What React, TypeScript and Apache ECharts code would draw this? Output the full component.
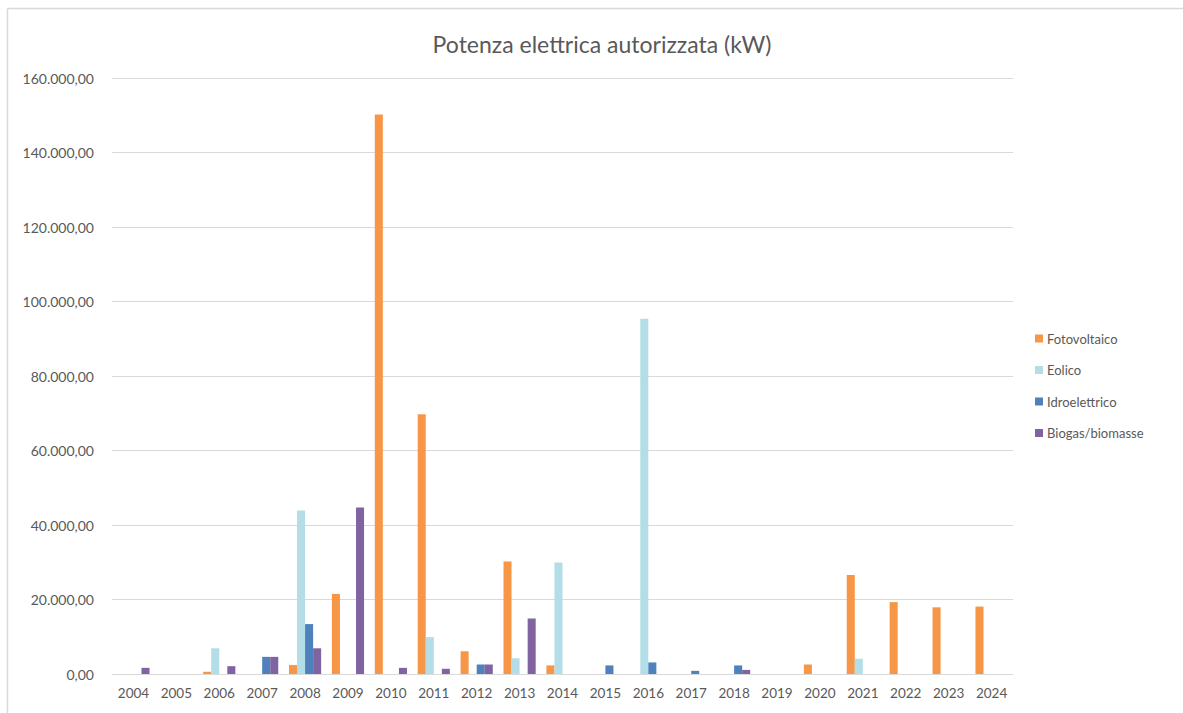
import React, { useEffect, useRef } from "react";
import * as echarts from "echarts";

const years = ["2004","2005","2006","2007","2008","2009","2010","2011","2012","2013","2014","2015","2016","2017","2018","2019","2020","2021","2022","2023","2024"];
const fotovoltaico = [0, 0, 600, 0, 2400, 21500, 150200, 69700, 6100, 30200, 2300, 0, 0, 0, 0, 0, 2550, 26600, 19300, 17900, 18100];
const eolico = [0, 0, 6900, 0, 43900, 0, 0, 9900, 0, 4200, 29900, 0, 95400, 0, 0, 0, 0, 4100, 0, 0, 0];
const idroelettrico = [0, 0, 0, 4600, 13400, 0, 0, 0, 2550, 0, 0, 2300, 3100, 850, 2300, 0, 0, 0, 0, 0, 0];
const biogas = [1650, 0, 2100, 4600, 6900, 44700, 1650, 1400, 2550, 14900, 0, 0, 0, 0, 1100, 0, 0, 0, 0, 0, 0];
const seriesNames = ["Fotovoltaico", "Eolico", "Idroelettrico", "Biogas/biomasse"];
const colors = ["#F79646", "#B3DDE7", "#4F81BD", "#8064A2"];

const FONT = "Lato";

function fmt(v: number): string {
  const s = Math.round(v).toString().replace(/\B(?=(\d{3})+(?!\d))/g, ".");
  return s + ",00";
}

export default function App() {
  const ref = useRef<HTMLDivElement>(null);
  useEffect(() => {
    if (!ref.current) return;
    const chart = echarts.init(ref.current, null, { renderer: "svg" });
    const data = [fotovoltaico, eolico, idroelettrico, biogas];
    chart.setOption({
      animation: false,
      backgroundColor: "#ffffff",
      textStyle: { fontFamily: FONT },
      title: {
        text: "Potenza elettrica autorizzata (kW)",
        left: 597,
        textAlign: "center",
        top: 27,
        textStyle: { fontFamily: FONT, fontSize: 23, fontWeight: "normal", color: "#595959" },
      },
      legend: {
        orient: "vertical",
        left: 1030,
        top: 327,
        itemWidth: 8,
        itemHeight: 8,
        itemGap: 18.5,
        icon: "rect",
        data: seriesNames,
        textStyle: { fontFamily: FONT, fontSize: 13, color: "#595959", padding: [0, 0, 0, -1] },
      },
      grid: { left: 112, right: 170, top: 78, bottom: 39, containLabel: false },
      xAxis: {
        type: "category",
        data: years,
        axisLine: { lineStyle: { color: "#D9D9D9" } },
        axisTick: { show: false },
        axisLabel: { color: "#595959", fontSize: 13.5, fontFamily: FONT, margin: 12 },
      },
      yAxis: {
        type: "value",
        min: 0,
        max: 160000,
        interval: 20000,
        axisLine: { show: false },
        axisTick: { show: false },
        splitLine: { lineStyle: { color: "#D9D9D9" } },
        axisLabel: { color: "#595959", fontSize: 14, fontFamily: FONT, margin: 18, formatter: (v: number) => fmt(v) },
      },
      graphic: [
        { type: "line", shape: { x1: 7.5, y1: 8.5, x2: 1183, y2: 8.5 }, style: { stroke: "#D9D9D9", lineWidth: 1.5 } },
        { type: "line", shape: { x1: 7.5, y1: 8.5, x2: 7.5, y2: 713 }, style: { stroke: "#D9D9D9", lineWidth: 1.5 } },
      ],
      series: seriesNames.map((name, i) => ({
        name,
        type: "bar",
        data: data[i],
        barGap: "0%",
        barCategoryGap: "25%",
        itemStyle: { color: colors[i] },
      })),
    });
    return () => chart.dispose();
  }, []);
  return <div ref={ref} style={{ position: "absolute", left: 0, top: 0, width: 1183, height: 713 }} />;
}
